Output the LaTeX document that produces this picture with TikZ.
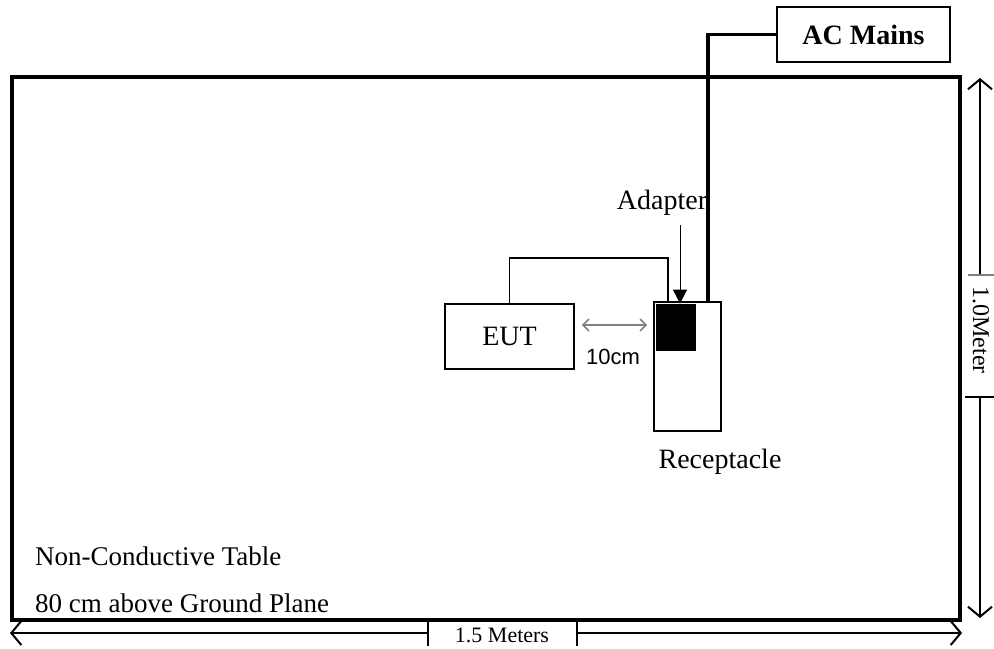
\documentclass[tikz,border=0pt]{standalone}
\usepackage{fontspec}
\setmainfont{Liberation Serif}
\setsansfont{Liberation Sans}
\usetikzlibrary{arrows.meta,calc}

\begin{document}
\begin{tikzpicture}[x=0.5pt,y=-0.5pt,font=\fontsize{14}{16}\selectfont,
 box/.style={draw,line width=0.8pt,inner sep=0pt},
 cable/.style={line width=1.6pt},
 dim/.style={line width=0.6pt,-{Straight Barb[length=5pt,width=12pt,line width=1pt]}},
 small/.style={font=\fontsize{11}{13}\selectfont}]
 \useasboundingbox (0,0) rectangle (994,648);
 \node[box,line width=1.6pt,minimum width=474pt,minimum height=271.5pt] (table) at (486,348.5) {};
 \node[box,minimum width=86.5pt,minimum height=27.5pt,font=\fontsize{14}{16}\selectfont\bfseries] (mains) at (863.5,34.5) {AC Mains};
 \node[box,minimum width=64.5pt,minimum height=32.5pt] (eut) at (509.5,336.5) {EUT};
 \node[box,minimum width=33.5pt,minimum height=64.5pt] (recept) at (687.5,366.5) {};
 \node[fill=black,inner sep=0pt,minimum width=20pt,minimum height=23.5pt] (adapter) at (676,327.5) {};
 \node (adlabel) at (662,203) {Adapter};
 \node (rclabel) at (720,462) {Receptacle};
 \node[font=\sffamily\fontsize{11}{13}\selectfont] (gaplabel) at (613,357) {10cm};
 \node[anchor=west,font=\fontsize{13.5}{15}\selectfont] (tabtext) at (28,556) {Non-Conductive Table};
 \node[anchor=west,font=\fontsize{13.5}{15}\selectfont] (gndtext) at (28,603) {80 cm above Ground Plane};
 % cables
 \coordinate (mainsplug) at (708,302);
 \coordinate (eutplug) at (668,302);
 \coordinate (eutbend) at (668,258);
 \draw[cable] (mains.west) -| (mainsplug);
 \draw[line width=0.8pt] (eut.north) |- (eutbend) -- (eutplug);
 \draw[line width=0.5pt,-{Triangle[length=7pt,width=7pt]}] ([xshift=9pt,yshift=-1pt]adlabel.south) -- ([xshift=2pt]adapter.north);
 \coordinate (gapL) at ($(eut.east)+(7,-11.5)$);
 \draw[gray,line width=0.8pt,{Straight Barb[length=3pt,width=6pt]}-{Straight Barb[length=3pt,width=6pt]}] (gapL) -- ($(gapL -| recept.west)+(-6,0)$);
 % dimensions
 \draw[dim] (428,633) -- (10,633);
 \draw[dim] (577,633) -- (962,633);
 \draw[line width=0.6pt] (428,621) -- (428,646) (577,621) -- (577,646);
 \node[small] (wlabel) at (502,635) {1.5 Meters};
 \draw[dim] (980,275) -- (980,78);
 \draw[dim] (980,397) -- (980,618);
 \draw[gray,line width=1pt] (968,275) -- (994,275);
 \draw[line width=0.6pt] (965,397) -- (994,397);
 \node[rotate=-90,font=\fontsize{12}{14}\selectfont] (hlabel) at (981,330) {1.0Meter};
\end{tikzpicture}
\end{document}
